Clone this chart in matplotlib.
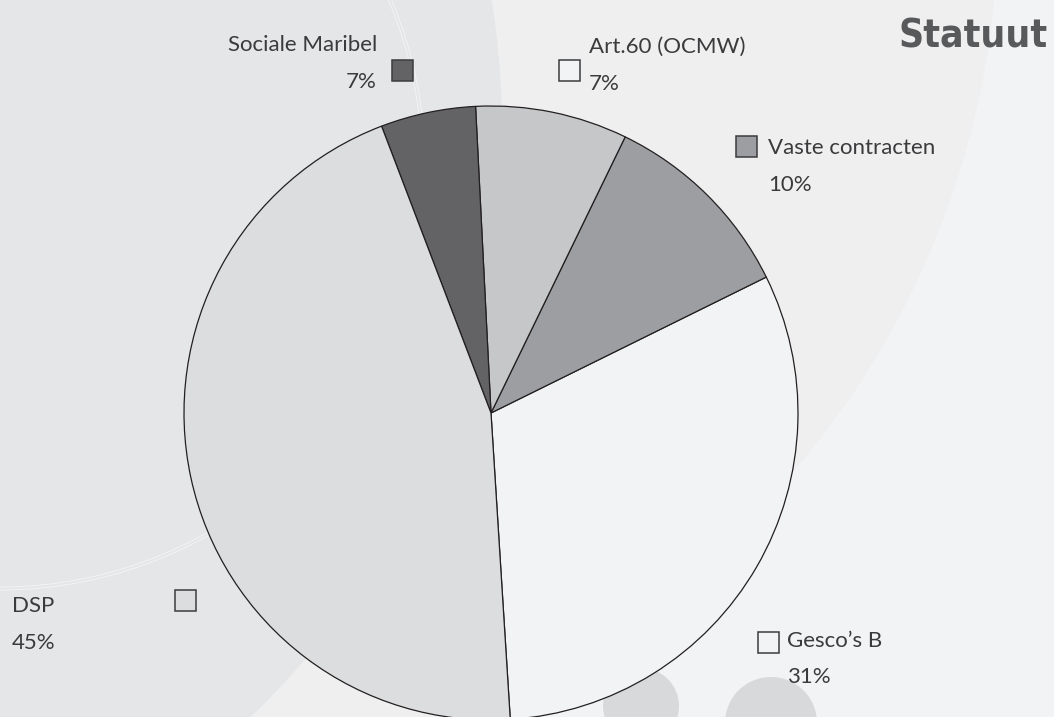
import matplotlib

matplotlib.use("Agg")
import matplotlib.pyplot as plt
from matplotlib.patches import Circle, Rectangle

W, H = 1054, 717

# wedge order: counter-clockwise, starting at the bottom (Gesco's B)
CATEGORIES = ["Gesco\u2019s B", "Vaste contracten", "Art.60 (OCMW)", "Sociale Maribel", "DSP"]
SHARES = [31.3, 10.5, 8.0, 5.0, 45.2]          # wedge sizes as drawn (%)
PCT_LABELS = ["31%", "10%", "7%", "7%", "45%"]  # printed values
WEDGE_COLORS = ["#f2f3f5", "#9d9ea1", "#c6c7c9", "#636365", "#dcdddf"]
BOX_COLORS = ["#f2f3f5", "#9d9ea1", "#f2f3f5", "#636365", "#dcdddf"]

TXT = "#3b3b3d"
FONT = ["Lato", "DejaVu Sans"]


def py(y):
    # pixel row (from top) -> data y
    return H - y


fig = plt.figure(figsize=(W / 100, H / 100), dpi=100)
ax = fig.add_axes([0, 0, 1, 1])
fig.patch.set_facecolor("#f2f3f5")

# decorative background circles
ax.add_patch(Circle((153, py(-80)), 845, color="#efefef", lw=0, zorder=0))
ax.add_patch(Circle((-311, py(129)), 813, color="#e5e6e8", lw=0, zorder=1))
for r in (422, 425):
    ax.add_patch(Circle((0, py(165)), r, fill=False, ec="white", lw=0.6, alpha=0.6, zorder=2))
ax.add_patch(Circle((641, py(706)), 38, color="#d8d9db", lw=0, zorder=2))
ax.add_patch(Circle((771, py(723)), 46, color="#d8d9db", lw=0, zorder=2))

wedges, _ = ax.pie(
    SHARES,
    colors=WEDGE_COLORS,
    startangle=-86.4,
    counterclock=True,
    center=(491, py(413)),
    radius=307,
    wedgeprops=dict(edgecolor="#231f20", linewidth=0.9),
    frame=True,
)
for w in wedges:
    w.set_zorder(3)
ax.set_xlim(0, W)
ax.set_ylim(0, H)
ax.set_aspect("equal")
ax.axis("off")

# legend boxes + labels, laid out around the pie like the original
# (box x, box top, text x, name baseline, pct baseline, text align)
layout = {
    "Gesco\u2019s B": (758, 632, 787, 647, 683, "left"),
    "Vaste contracten": (736, 136, 768, 154, 191, "left"),
    "Art.60 (OCMW)": (559, 60, 589, 53, 90, "left"),
    "Sociale Maribel": (392, 60, 377, 51, 88, "right"),
    "DSP": (175, 590, 12, 612, 649, "left"),
}
for name, pct, bc in zip(CATEGORIES, PCT_LABELS, BOX_COLORS):
    bx, by, tx, nb, pb, ha = layout[name]
    ax.add_patch(Rectangle((bx, py(by + 21)), 21, 21, fc=bc, ec="#3c3c3e", lw=1.1, zorder=4))
    ax.text(tx, py(nb), name, ha=ha, va="baseline", fontsize=16, color=TXT,
            family=FONT, zorder=5)
    ax.text(tx, py(pb), pct, ha=ha, va="baseline", fontsize=16, color=TXT,
            family=FONT, zorder=5)

ax.text(1048, py(47), "Statuut", ha="right", va="baseline", fontsize=28,
        color="#58595b", weight="bold", stretch="condensed",
        family=["DejaVu Sans"], zorder=5)

fig.savefig("out.png", dpi=100, facecolor=fig.get_facecolor())
